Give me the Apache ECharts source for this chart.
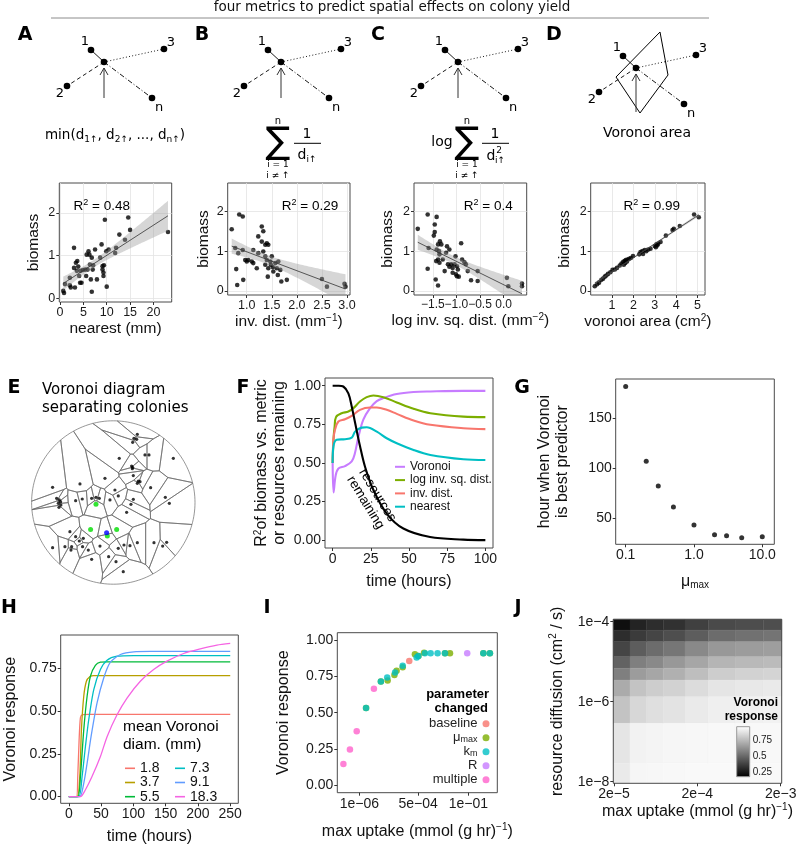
<!DOCTYPE html>
<html><head><meta charset="utf-8">
<script src="https://cdn.jsdelivr.net/npm/echarts@6.0.0/dist/echarts.min.js"></script>
<style>html,body{margin:0;padding:0;background:#fff;}#chart{width:799px;height:848px;}</style>
</head><body><div id="chart"></div>
<script>
// ===================== DATA =====================
// Panel A: nearest neighbour distance (mm) vs biomass
const nearestMm = [0.7,0.86,1.07,2.1,2.3,3.0,3.0,3.2,3.4,3.6,3.7,3.9,4.1,4.3,4.4,4.6,4.9,5.4,5.6,5.7,5.9,6.1,6.3,6.4,6.6,6.8,6.8,7.0,7.1,7.5,7.9,8.6,8.9,9.1,9.1,9.3,9.3,9.4,9.6,9.9,10.0,10.4,11.8,12.0,12.7,13.9,14.6,15.0,23.1,2.1];
const biomassA = [0.17,0.12,0.33,0.48,0.25,1.18,0.71,0.25,0.83,0.64,0.87,0.74,0.52,0.36,0.64,0.36,0.66,0.67,0.52,1.02,0.67,1.1,1.02,0.79,0.44,0.15,0.95,0.67,0.77,1.14,0.44,0.95,1.26,0.75,0.67,0.6,0.52,0.77,1.84,1.1,0.27,1.14,1.06,1.18,1.49,1.37,1.89,1.6,1.55,0.3];
// Panel B: inverse distance (mm^-1)
const invDist = [0.7,0.77,0.79,0.85,0.92,0.83,0.92,0.81,0.93,0.97,1.0,1.03,1.1,1.13,1.23,1.3,1.33,1.3,1.33,1.37,1.4,1.43,1.37,1.37,1.4,1.43,1.42,1.47,1.48,1.5,1.52,1.53,1.57,1.6,1.62,1.63,1.67,1.69,1.8,1.23,1.2,1.13,2.5,2.6,2.95,2.97];
const biomassB = [1.55,1.08,0.55,1.92,1.87,0.95,1.03,0.15,0.28,0.78,0.74,0.78,0.74,1.03,1.37,1.62,1.5,1.24,0.99,1.16,1.2,1.16,0.87,0.66,0.78,0.57,0.36,0.74,0.66,0.87,0.6,0.49,0.7,0.57,0.4,0.74,0.53,0.24,0.28,0.95,0.57,0.7,0.3,0.11,0.18,0.11];
// Panel C: log inverse squared distance (mm^-2)
const logInvSqDist = [-1.82,-1.61,-1.59,-1.61,-1.46,-1.42,-1.46,-1.48,-1.44,-1.39,-1.43,-1.42,-1.39,-1.37,-1.36,-1.35,-1.32,-1.39,-1.36,-1.29,-1.25,-1.22,-1.2,-1.15,-1.18,-1.15,-1.11,-1.08,-1.08,-1.04,-1.02,-1.01,-0.99,-0.95,-0.99,-0.97,-0.9,-0.88,-0.83,-0.8,-0.76,-0.69,-0.55,-0.55,0.07,0.1,0.39,0.39];
const biomassC = [1.56,1.92,1.08,0.56,1.67,1.86,1.48,1.39,0.29,0.14,0.75,1.04,1.17,1.0,0.92,1.25,1.17,0.79,0.71,0.79,0.5,0.96,1.12,1.04,0.67,0.61,0.67,0.58,0.46,0.67,0.87,0.42,0.37,0.36,0.62,0.54,1.2,0.79,0.72,0.67,0.5,0.27,0.25,0.5,0.33,0.12,0.19,0.12];
// Panel D: voronoi area (cm^2)
const voronoiArea = [0.19,0.3,0.39,0.5,0.58,0.66,0.73,0.81,0.92,1.02,1.13,1.23,1.36,1.44,1.52,1.59,1.64,1.72,1.8,1.88,1.98,2.27,2.33,2.42,2.53,2.69,2.8,3.0,3.08,3.16,3.27,3.52,3.83,3.89,4.17,4.84,5.06,1.55,1.62,1.7,2.45,2.6,3.05,3.12];
const biomassD = [0.12,0.17,0.21,0.28,0.31,0.36,0.39,0.43,0.47,0.53,0.54,0.58,0.64,0.69,0.73,0.75,0.78,0.79,0.81,0.83,0.88,0.92,0.98,1.0,1.03,1.04,1.06,1.13,1.17,1.19,1.23,1.39,1.53,1.56,1.63,1.92,1.85,0.66,0.7,0.74,0.93,1.0,1.1,1.15];
const r2Labels = ['0.48','0.29','0.4','0.99'];

// Panel E: colony positions (dish radius = 1)
const colonyX = [0.294,0.253,0.286,0.237,0.388,0.437,0.735,0.073,0.224,0.237,0.233,-0.408,-0.102,0.245,0.306,0.294,0.327,0.457,-0.743,0.02,-0.694,-0.661,-0.645,-0.673,-0.665,-0.641,-0.461,-0.38,-0.265,-0.212,-0.171,0.061,-0.041,0.245,0.216,0.637,0.686,0.163,-0.531,-0.461,-0.416,-0.367,-0.743,-0.592,-0.51,-0.518,-0.376,-0.306,-0.265,-0.163,-0.057,0.033,0.061,0.131,0.204,0.294,0.498,0.604,0.653,0.122];
const colonyY = [0.835,0.786,0.773,0.737,0.582,0.582,0.541,0.541,0.447,0.431,0.414,0.227,0.296,0.329,0.263,0.235,0.255,0.182,0.186,0.153,0.051,0.031,0.01,-0.01,-0.059,-0.031,0.022,0.043,0.051,0.063,0.051,0.08,0.031,0.039,-0.022,0.063,-0.01,-0.12,-0.357,-0.418,-0.471,-0.439,-0.553,-0.541,-0.541,-0.582,-0.541,-0.582,-0.696,-0.533,-0.663,-0.724,-0.561,-0.52,-0.529,-0.492,-0.492,-0.533,-0.488,-0.847];
const neighbourX = [-0.212,-0.278,0.041,-0.073];
const neighbourY = [-0.022,-0.329,-0.329,-0.41];
const focalX = [-0.082];
const focalY = [-0.369];

// Panel F: R^2 over time
const resT = [0,4,7,10.3,12.5,14.7,17.9,21.2,26.7,35.4,46.3,63.8,85.6,100];
const resY = [1,1,0.995,0.95,0.866,0.76,0.61,0.476,0.325,0.173,0.076,0.021,0.004,0.001];
const vorT = [0,0.6,2,3.8,8.1,12.5,14.5,16.9,20.1,24.5,28.9,33.2,42,53,64,85.6,100];
const vorY = [0.5,0.31,0.42,0.465,0.48,0.51,0.56,0.67,0.78,0.855,0.9,0.92,0.946,0.959,0.963,0.967,0.967];
const lisT = [0,0.6,1.3,2.2,5.9,10.3,13.6,17.9,22.3,26.7,33.2,42,53,64,85.6,100];
const lisY = [0.5,0.66,0.735,0.797,0.822,0.833,0.855,0.898,0.926,0.937,0.926,0.892,0.851,0.822,0.8,0.797];
const idT = [0,0.5,1.5,3.8,8.1,12.5,17.9,24.5,28.9,35.4,42,53,64,85.6,100];
const idY = [0.5,0.65,0.714,0.768,0.783,0.805,0.844,0.859,0.859,0.844,0.818,0.775,0.747,0.725,0.719];
const nnT = [0,0.5,2.7,8.1,12.5,14.7,19,22.3,28.9,35.4,42,53,64,85.6,100];
const nnY = [0.5,0.606,0.65,0.654,0.664,0.703,0.729,0.731,0.703,0.66,0.628,0.584,0.552,0.524,0.519];

// Panel G
const muMax = [0.1,0.2,0.3,0.5,1,2,3,5,10];
const bestHour = [182,107,82,61,43,33,32,30,31];
const gTicks = [0.1,1,10]; const gTickLabels = ['0.1','1.0','10.0'];

// Panel H: Voronoi response over time by mean Voronoi diameter
const hNames = ['1.8','3.7','5.5','7.3','9.1','18.3'];
const hT = [
 [0,11.9,13.9,16,18,20.6,30,250],
 [0,12.9,17,19.6,23.2,27.3,32.5,38.7,250],
 [0,13.9,18,23.2,28.4,33.5,41.2,49,59.3,250],
 [0,15.5,20.6,25.8,30.9,38.7,49,59.3,74.7,100.5,250],
 [0,17,23.2,28.4,34.5,43.8,54.1,64.4,79.9,100.5,126,250],
 [0,18,25.8,36,49,59.3,74.7,90.2,110.8,131.4,152,177.8,203.6,229.4,250]];
const hY = [
 [0,0,0.117,0.33,0.46,0.478,0.48,0.48],
 [0,0,0.117,0.39,0.586,0.674,0.7,0.707,0.707],
 [0,0,0.117,0.39,0.586,0.703,0.766,0.785,0.787,0.787],
 [0,0,0.117,0.293,0.449,0.625,0.742,0.797,0.82,0.824,0.824],
 [0,0,0.078,0.195,0.35,0.547,0.693,0.785,0.83,0.846,0.848,0.848],
 [0,0,0.04,0.117,0.234,0.35,0.478,0.576,0.674,0.742,0.791,0.836,0.863,0.885,0.895]];

// Panel I: log10 max uptake vs Voronoi response, by parameter changed
const iNames = ['baseline','μmax','km','R','multiple'];
const iLogUptake = [
 [-3.71],
 [-5.69,-5.01,-4.70,-4.39,-4.29,-4.01,-3.45,-3.29,-3.03,-2.07,-1.84,-0.31,-0.01],
 [-5.69,-5.01,-4.72,-4.36,-4.01,-3.37,-3.29,-2.99,-2.73,-2.41,-2.07,-0.31,-0.01],
 [-1.05],
 [-6.73,-6.43,-6.12,-5.33]];
const iResponse = [
 [0.856],
 [0.532,0.715,0.721,0.76,0.788,0.813,0.902,0.89,0.913,0.909,0.909,0.909,0.909],
 [0.532,0.715,0.742,0.776,0.822,0.879,0.89,0.909,0.909,0.909,0.909,0.909,0.909],
 [0.909],
 [0.148,0.247,0.372,0.664]];
const iTicks = [1e-6,5e-4,1e-1]; const iTickLabels = ['1e\u221206','5e\u221204','1e\u221201'];

// Panel J: heat map, tile edges (log10) and response
const jUptakeEdgesLog = [-4.707,-4.507,-4.306,-4.107,-3.847,-3.567,-3.246,-2.906,-2.687];
const jDiffusionEdgesLog = [-3.94,-4.21,-4.5,-4.875,-5.165,-5.46,-5.875,-6.54,-7.54,-8.04];
const jResponse = [
 [0.235,0.294,0.324,0.339,0.384,0.414,0.422,0.428],
 [0.324,0.369,0.399,0.428,0.473,0.518,0.533,0.542],
 [0.399,0.473,0.518,0.548,0.607,0.652,0.667,0.673],
 [0.488,0.577,0.607,0.652,0.697,0.741,0.756,0.762],
 [0.577,0.667,0.697,0.726,0.771,0.816,0.831,0.837],
 [0.712,0.786,0.816,0.831,0.861,0.890,0.899,0.905],
 [0.786,0.846,0.870,0.884,0.905,0.920,0.926,0.929],
 [0.890,0.929,0.935,0.941,0.944,0.947,0.947,0.947],
 [0.905,0.941,0.944,0.947,0.950,0.950,0.950,0.950]];
const jUptakeTicks = [2e-5,2e-4,2e-3]; const jUptakeLabels = ['2e\u22125','2e\u22124','2e\u22123'];
const jDiffTicks = [1e-4,1e-6,1e-8]; const jDiffLabels = ['1e\u22124','1e\u22126','1e\u22128'];
const cbTicks = [0.25,0.5,0.75]; const cbLabels = ['0.25','0.5','0.75'];
const respRange = [0.1875,0.969];

// ===================== HELPERS =====================
const AX = 'Liberation Sans', DV = 'DejaVu Sans';
const zip = (a,b) => a.map((v,i)=>[v,b[i]]);
const lg = v => Math.log10(v);
const labeler = (vals, texts) => v => { const i = vals.findIndex(u => Math.abs(u - v) < 1e-6); return i >= 0 ? texts[i] : ''; };
const RICH = {
  sup:{fontSize:10, verticalAlign:'top', lineHeight:10, fontFamily:AX, color:'#111'},
  sub:{fontSize:10, verticalAlign:'bottom', lineHeight:10, fontFamily:AX, color:'#111'}
};

function axis(o){
  return {
    type:'value', gridIndex:o.g, min:o.min, max:o.max, position:o.pos, show:o.show!==false,
    minInterval:o.gi, maxInterval:o.gi,
    axisLine:{show:false, onZero:false},
    axisTick:{show:!!o.ticks, length:3, lineStyle:{color:'#333', width:1}, customValues:o.ticks},
    axisLabel:{show:!!o.ticks, customValues:o.ticks, formatter:o.fmt, color:'#1a1a1a', fontSize:o.fs||14, fontFamily:AX, margin:o.margin!=null?o.margin:4, hideOverlap:false, showMinLabel:true, showMaxLabel:true},
    splitLine:{show:!!o.gi, lineStyle:{color:'#e3e3e3', width:0.8}},
    name:o.name, nameLocation:'middle', nameGap:o.gap,
    nameTextStyle:{fontSize:o.nfs||16, fontFamily:AX, color:'#111', lineHeight:18, rich:RICH},
    z:o.z
  };
}

function fitBand(xs, ys){
  const n = xs.length;
  const mx = xs.reduce((s,v)=>s+v,0)/n, my = ys.reduce((s,v)=>s+v,0)/n;
  let sxx=0, sxy=0; for (let i=0;i<n;i++){ sxx+=(xs[i]-mx)**2; sxy+=(xs[i]-mx)*(ys[i]-my); }
  const b = sxy/sxx, a = my - b*mx;
  let sse=0; for (let i=0;i<n;i++) sse += (ys[i]-a-b*xs[i])**2;
  const s = Math.sqrt(sse/(n-2)), t = 2.01;
  const x0 = Math.min(...xs), x1 = Math.max(...xs);
  const band=[];
  for (let k=0;k<=80;k++){ const x = x0+(x1-x0)*k/80, yh=a+b*x, se=s*Math.sqrt(1/n+(x-mx)**2/sxx); band.push([x, yh-t*se, yh+t*se]); }
  return {line:[[x0,a+b*x0],[x1,a+b*x1]], band};
}

// Voronoi cells by half-plane clipping of the dish
function clipHalf(poly, a, b, c){
  const out=[];
  for (let k=0;k<poly.length;k++){
    const P=poly[k], Q=poly[(k+1)%poly.length];
    const fp=a*P[0]+b*P[1]-c, fq=a*Q[0]+b*Q[1]-c;
    if (fp<=0) out.push(P);
    if ((fp<0&&fq>0)||(fp>0&&fq<0)){ const t=fp/(fp-fq); out.push([P[0]+t*(Q[0]-P[0]), P[1]+t*(Q[1]-P[1])]); }
  }
  return out;
}
const sitesX = colonyX.concat(neighbourX, focalX), sitesY = colonyY.concat(neighbourY, focalY);
const dish = []; for (let k=0;k<180;k++){ const th=2*Math.PI*k/180; dish.push([Math.cos(th), Math.sin(th)]); }
const cells = sitesX.map((sx,i)=>{
  let poly = dish.slice(); const sy = sitesY[i];
  for (let j=0;j<sitesX.length;j++){ if (j===i) continue;
    const tx=sitesX[j], ty=sitesY[j]; if (Math.abs(tx-sx)<1e-9 && Math.abs(ty-sy)<1e-9) continue;
    poly = clipHalf(poly, 2*(tx-sx), 2*(ty-sy), tx*tx+ty*ty-sx*sx-sy*sy);
    if (poly.length<3) break; }
  return poly;
});

// ===================== GRIDS / AXES =====================
const gridBase = {show:true, borderColor:'#4a4a4a', borderWidth:1, backgroundColor:'rgba(0,0,0,0)', containLabel:false, outerBoundsMode:'none'};
const grids = [
 {left:59.3, top:183, width:112.4, height:119},
 {left:227.7, top:183, width:122.3, height:112},
 {left:414, top:183, width:112.7, height:112},
 {left:590.7, top:183, width:114.3, height:112},
 {left:31.6, top:420.8, width:163.4, height:163.4, show:false},
 {left:325, top:378, width:168, height:170},
 {left:615.7, top:379, width:158.6, height:165.3},
 {left:60.7, top:635, width:177.6, height:168.3},
 {left:337.3, top:632.7, width:160, height:160},
 {left:613.3, top:619.3, width:168.4, height:164, z:10},
 {left:736.7, top:726.7, width:13, height:50, borderColor:'#999', z:10}
].map(gr=>Object.assign({}, gridBase, gr));

const f1 = v=>v.toFixed(1), f2 = v=>v.toFixed(2), f0 = v=>String(v);
const fNeg = v => (v<0?'\u2212':'')+Math.abs(v).toFixed(1);
const xAxes = [
 axis({g:0, min:-0.15, max:23.9, gi:2.5, ticks:[0,5,10,15,20], fmt:f0, fs:12.5, name:'nearest (mm)', gap:13, nfs:15.5}),
 axis({g:1, min:0.62, max:3.06, gi:0.25, ticks:[1,1.5,2,2.5,3], fmt:f1, fs:12.5, name:'inv. dist. (mm{sup|\u22121})', gap:12, nfs:15.5}),
 axis({g:2, min:-1.9, max:0.49, gi:0.25, ticks:[-1.5,-1,-0.5,0], fmt:fNeg, fs:12, name:'log inv. sq. dist. (mm{sup|\u22122})', gap:12, nfs:15.5}),
 axis({g:3, min:0, max:5.35, gi:0.5, ticks:[1,2,3,4,5], fmt:f0, fs:12.5, name:'voronoi area (cm{sup|2})', gap:12, nfs:15.5}),
 axis({g:4, min:-1, max:1, show:false}),
 axis({g:5, min:-5, max:105, ticks:[0,25,50,75,100], fmt:f0, name:'time (hours)', gap:25}),
 axis({g:6, min:-1.146, max:1.176, ticks:gTicks.map(lg), fmt:labeler(gTicks.map(lg), gTickLabels), name:'\u03bc{sub|max}', gap:28}),
 axis({g:7, min:-12.5, max:262.5, ticks:[0,50,100,150,200,250], fmt:f0, name:'time (hours)', gap:24}),
 axis({g:8, min:-7.01, max:0.33, ticks:iTicks.map(lg), fmt:labeler(iTicks.map(lg), iTickLabels), name:'max uptake (mmol (g hr){sup|\u22121})', gap:30}),
 axis({g:9, min:-4.707, max:-2.687, ticks:jUptakeTicks.map(lg), fmt:labeler(jUptakeTicks.map(lg), jUptakeLabels), name:'max uptake (mmol (g hr){sup|\u22121})', gap:14, z:11}),
 axis({g:10, min:0, max:1, show:false})
];
const yAxes = [
 axis({g:0, min:-0.09, max:2.7, gi:0.5, ticks:[0,1,2], fmt:f0, fs:12.5, name:'biomass', gap:17, nfs:15.5}),
 axis({g:1, min:-0.1, max:2.71, gi:0.5, ticks:[0,1,2], fmt:f0, fs:12.5, name:'biomass', gap:11, nfs:15.5}),
 axis({g:2, min:-0.1, max:2.71, gi:0.5, ticks:[0,1,2], fmt:f0, fs:12.5, name:'biomass', gap:17, nfs:15.5}),
 axis({g:3, min:-0.1, max:2.71, gi:0.5, ticks:[0,1,2], fmt:f0, fs:12.5, name:'biomass', gap:17, nfs:15.5}),
 axis({g:4, min:-1, max:1, show:false}),
 axis({g:5, min:-0.05, max:1.05, ticks:[0,0.25,0.5,0.75,1], fmt:f2, name:'R{sup|2}of biomass vs. metric\nor resources remaining', gap:36}),
 axis({g:6, min:23.5, max:189.5, ticks:[50,100,150], fmt:f0, name:'hour when Voronoi\nis best predictor', gap:44}),
 axis({g:7, min:-0.039, max:0.944, ticks:[0,0.25,0.5,0.75], fmt:f2, name:'Voronoi response', gap:41}),
 axis({g:8, min:-0.05, max:1.05, ticks:[0,0.25,0.5,0.75,1], fmt:f2, name:'Voronoi response', gap:45}),
 axis({g:9, min:-8.04, max:-3.94, ticks:jDiffTicks.map(lg), fmt:labeler(jDiffTicks.map(lg), jDiffLabels), name:'resource diffusion (cm{sup|2} / s)', gap:47, z:11}),
 Object.assign(axis({g:10, min:respRange[0], max:respRange[1], pos:'right', ticks:cbTicks, fmt:labeler(cbTicks, cbLabels), fs:10, margin:3, z:12}), {axisTick:{show:false}})
];

// ===================== SERIES =====================
const series = [];
const scatterSets = [[nearestMm,biomassA],[invDist,biomassB],[logInvSqDist,biomassC],[voronoiArea,biomassD]];
scatterSets.forEach((s,k)=>{
  series.push({type:'scatter', xAxisIndex:k, yAxisIndex:k, data:zip(s[0],s[1]), symbolSize:4.6, itemStyle:{color:'#000'}, z:2, silent:true});
  const fb = fitBand(s[0], s[1]);
  const yMin = yAxes[k].min, yMax = yAxes[k].max;
  const cl = v => Math.max(yMin, Math.min(yMax, v));
  series.push({type:'custom', xAxisIndex:k, yAxisIndex:k, data:fb.band, z:3, silent:true,
    renderItem:(p,api)=>{
      if (p.dataIndex !== 0) return null;
      const top = fb.band.map(b=>api.coord([b[0], cl(b[2])]));
      const bot = fb.band.slice().reverse().map(b=>api.coord([b[0], cl(b[1])]));
      return {type:'polygon', shape:{points:top.concat(bot)}, style:{fill:'rgba(153,153,153,0.4)'}};
    }});
  series.push({type:'line', xAxisIndex:k, yAxisIndex:k, data:fb.line, symbol:'none', lineStyle:{color:'#333', width:0.8}, z:4, silent:true});
});
// E
series.push({type:'custom', xAxisIndex:4, yAxisIndex:4, data:cells.map((c,i)=>[i,0]), silent:true, z:2,
  renderItem:(p,api)=>({type:'polygon', shape:{points:cells[api.value(0)].map(pt=>api.coord(pt))}, style:{fill:'none', stroke:'#6a6a6a', lineWidth:0.7}})});
series.push({type:'scatter', xAxisIndex:4, yAxisIndex:4, data:zip(colonyX,colonyY), symbolSize:3.2, itemStyle:{color:'#000'}, z:3, silent:true});
series.push({type:'scatter', xAxisIndex:4, yAxisIndex:4, data:zip(neighbourX,neighbourY), symbolSize:5, itemStyle:{color:'#00dd00'}, z:3, silent:true});
series.push({type:'scatter', xAxisIndex:4, yAxisIndex:4, data:zip(focalX,focalY), symbolSize:5, itemStyle:{color:'#0000ff'}, z:4, silent:true});
// F
const fSeries = [['resources',resT,resY,'#000'],['Voronoi',vorT,vorY,'#C77CFF'],['log inv. sq. dist.',lisT,lisY,'#7CAE00'],['inv. dist.',idT,idY,'#F8766D'],['nearest',nnT,nnY,'#00BFC4']];
fSeries.forEach(s=>series.push({type:'line', name:s[0], xAxisIndex:5, yAxisIndex:5, data:zip(s[1],s[2]), smooth:0.35, symbol:'none', lineStyle:{color:s[3], width:2.1}, itemStyle:{color:s[3]}, silent:true, z:s[0]==='resources'?5:3}));
// G
series.push({type:'scatter', xAxisIndex:6, yAxisIndex:6, data:muMax.map((m,i)=>[lg(m), bestHour[i]]), symbolSize:5, itemStyle:{color:'#000'}, silent:true});
// H
const hColors = ['#F8766D','#B79F00','#00BA38','#00BFC4','#619CFF','#F564E3'];
hNames.forEach((nm,k)=>series.push({type:'line', name:nm, xAxisIndex:7, yAxisIndex:7, data:zip(hT[k],hY[k]), smooth:0.25, symbol:'none', lineStyle:{color:hColors[k], width:1.3}, itemStyle:{color:hColors[k]}, silent:true}));
// I
const iColors = ['#F8766D','#7CAE00','#00BFC4','#C77CFF','#FF61CC'];
iNames.forEach((nm,k)=>series.push({type:'scatter', name:nm, xAxisIndex:8, yAxisIndex:8, data:zip(iLogUptake[k],iResponse[k]), symbolSize:6.5, itemStyle:{color:iColors[k], opacity:0.8}, silent:true}));
// J
const jData = []; jResponse.forEach((row,r)=>row.forEach((v,c)=>jData.push([c,r,v])));
const jIndex = series.length;
series.push({type:'custom', xAxisIndex:9, yAxisIndex:9, data:jData, silent:true, encode:{x:0,y:1},
  renderItem:(p,api)=>{ const c=api.value(0), r=api.value(1);
    const p0=api.coord([jUptakeEdgesLog[c], jDiffusionEdgesLog[r]]), p1=api.coord([jUptakeEdgesLog[c+1], jDiffusionEdgesLog[r+1]]);
    const col=api.visual('color');
    return {type:'rect', shape:{x:p0[0], y:p0[1], width:p1[0]-p0[0], height:p1[1]-p0[1]}, style:{fill:col, stroke:col, lineWidth:0.4}}; }});
series.push({type:'custom', xAxisIndex:10, yAxisIndex:10, data:[[0.5,0.5]], silent:true, z:5,
  renderItem:(p)=>{ const cs=p.coordSys; return {type:'rect', shape:{x:cs.x, y:cs.y, width:cs.width, height:cs.height},
    style:{fill:new echarts.graphic.LinearGradient(0,1,0,0,[{offset:0,color:'#000'},{offset:1,color:'#fff'}])}}; }});

// ===================== GRAPHIC (texts, schematics) =====================
const g = [];
function txt(x,y,t,o){ o=o||{}; g.push({type:'text', x:x, y:y, rotation:o.rot||0, z:60, silent:true,
  style:{text:t, fill:o.fill||'#000', fontSize:o.fs||13, fontFamily:o.ff||DV, fontWeight:o.fw||'normal',
    align:o.al||'center', verticalAlign:'middle', textAlign:o.al||'center', textVerticalAlign:'middle', lineHeight:o.lh, rich:o.rich}}); }
txt(392,7,'four metrics to predict spatial effects on colony yield',{fs:13.5, fill:'#111'});
g.push({type:'line', shape:{x1:51,y1:18,x2:709,y2:18}, style:{stroke:'#8c8c8c', lineWidth:1}, silent:true});
[['A',25,35],['B',202,35],['C',378,35],['D',554,35],['E',14,388],['F',243,388],['G',522,388],['H',9,608],['I',267,608],['J',518,608]]
  .forEach(l=>txt(l[1],l[2],l[0],{fs:19, fw:'bold'}));
// schematics
const schemNodes = [[-13,-12],[60,-13],[-37,24],[48,36]];
const schemLabels = [['1',-19,-20],['3',67,-19],['2',-44,32],['n',55,46]];
const schemDash = [[], [1,2.2], [4,3], [5,2,1,2]];
function schematic(cx, cy, arrowLen){
  schemNodes.forEach((n,k)=>{
    g.push({type:'line', shape:{x1:cx,y1:cy,x2:cx+n[0],y2:cy+n[1]}, style:{stroke:'#000', lineWidth:0.9, lineDash:schemDash[k]}, z:50, silent:true});
    g.push({type:'circle', shape:{cx:cx+n[0], cy:cy+n[1], r:3.3}, style:{fill:'#000'}, z:51, silent:true});
    const L = schemLabels[k]; txt(cx+L[1], cy+L[2], L[0], {fs:13});
  });
  g.push({type:'circle', shape:{cx:cx, cy:cy, r:3.3}, style:{fill:'#000'}, z:51, silent:true});
  g.push({type:'line', shape:{x1:cx,y1:cy+arrowLen,x2:cx,y2:cy+6}, style:{stroke:'#333', lineWidth:1}, z:50, silent:true});
  g.push({type:'polyline', shape:{points:[[cx-4,cy+13],[cx,cy+6],[cx+4,cy+13]]}, style:{stroke:'#333', lineWidth:1, fill:null}, z:50, silent:true});
}
schematic(104,62,36); schematic(281,62,36); schematic(458,62,36); schematic(636,68,44);
g.push({type:'polygon', shape:{points:[[660,32],[668,75],[640,113],[616,77]]}, style:{fill:'none', stroke:'#000', lineWidth:1}, z:49, silent:true});
// formulas
const FR = {s:{fontSize:9, fontFamily:DV, verticalAlign:'bottom', lineHeight:10}};
txt(115,135,'min(d{s|1\u2191}, d{s|2\u2191}, ..., d{s|n\u2191})',{fs:13.5, rich:FR, lh:18});
function sumFormula(sx, fx, sq){
  txt(sx,143,'\u2211',{fs:37}); txt(sx,121,'n',{fs:10}); txt(sx,164.5,'i = 1',{fs:9}); txt(sx,175.5,'i \u2260 \u2191',{fs:9});
  txt(fx,134,'1',{fs:14});
  g.push({type:'line', shape:{x1:fx-13,y1:143.3,x2:fx+14,y2:143.3}, style:{stroke:'#000', lineWidth:1}, silent:true});
  if (sq) { txt(fx-4,156,'d',{fs:14}); txt(fx+4,150.5,'2',{fs:9}); txt(fx+5,160.5,'i\u2191',{fs:9}); }
  else txt(fx,155,'d{s|i\u2191}',{fs:14, rich:FR, lh:18});
}
sumFormula(278,307,false);
txt(442,142,'log',{fs:14});
sumFormula(467,495,true);
txt(647,133,'Voronoi area',{fs:14});
// R^2 labels
const R2R = {p:{fontSize:9, fontFamily:AX, verticalAlign:'top', lineHeight:9}};
[[101.7,206.7],[310,206.7],[488.3,206.7],[651.7,206.7]].forEach((p,k)=>txt(p[0],p[1],'R{p|2} = '+r2Labels[k],{fs:13.5, ff:AX, rich:R2R, lh:18}));
// E title
txt(42,390,'Voronoi diagram',{fs:15, al:'left'});
txt(42,408,'separating colonies',{fs:15, al:'left'});
// F annotation
txt(371.5,499,'resources\nremaining',{fs:13.5, ff:AX, rot:-1.02, lh:14});
// H legend title
txt(123,727,'mean Voronoi',{fs:15.5, ff:AX, al:'left'});
txt(123,745,'diam. (mm)',{fs:15.5, ff:AX, al:'left'});
// I legend title
txt(489,694,'parameter',{fs:13, ff:AX, fw:'bold', al:'right'});
txt(488,708,'changed',{fs:13, ff:AX, fw:'bold', al:'right'});
// J colorbar title
txt(778,703,'Voronoi',{fs:12, ff:AX, fw:'bold', al:'right'});
txt(778,717,'response',{fs:12, ff:AX, fw:'bold', al:'right'});

// ===================== LEGENDS =====================
const legBase = {orient:'vertical', padding:0, selectedMode:false, icon:'rect', itemWidth:10, itemHeight:2, textStyle:{fontFamily:AX, color:'#111'}};
const legends = [
 Object.assign({}, legBase, {data:['Voronoi','log inv. sq. dist.','inv. dist.','nearest'], left:395, top:460.3, itemGap:0.3, textStyle:{fontFamily:AX, color:'#111', fontSize:12, lineHeight:13}}),
 Object.assign({}, legBase, {data:['1.8','3.7','5.5'], left:125, top:761.3, itemGap:0.2, itemHeight:1.6, textStyle:{fontFamily:AX, color:'#111', fontSize:14, lineHeight:14}}),
 Object.assign({}, legBase, {data:['7.3','9.1','18.3'], left:175, top:761.3, itemGap:0.2, itemHeight:1.6, textStyle:{fontFamily:AX, color:'#111', fontSize:14, lineHeight:14}}),
 {data:['baseline','μmax','km','R','multiple'], orient:'vertical', right:309.5, top:717, align:'right', padding:0, itemGap:0.5, selectedMode:false,
  icon:'circle', itemWidth:7, itemHeight:7,
  formatter:n=> n==='μmax' ? '\u03bc{s|max}' : (n==='km' ? 'k{s|m}' : n),
  textStyle:{fontFamily:AX, color:'#222', fontSize:13, lineHeight:13.5, rich:{s:{fontSize:9, fontFamily:AX, color:'#222', verticalAlign:'bottom', lineHeight:9}}}}
];

const option = {
  animation:false, backgroundColor:'#fff',
  grid:grids, xAxis:xAxes, yAxis:yAxes, series:series, legend:legends,
  visualMap:[{type:'continuous', show:false, min:respRange[0], max:respRange[1], dimension:2, seriesIndex:jIndex, inRange:{color:['#000000','#ffffff']}}],
  graphic:{elements:g}
};
const chart = echarts.init(document.getElementById('chart'), null, {renderer:'canvas', width:799, height:848});
chart.setOption(option);
</script>
</body></html>
